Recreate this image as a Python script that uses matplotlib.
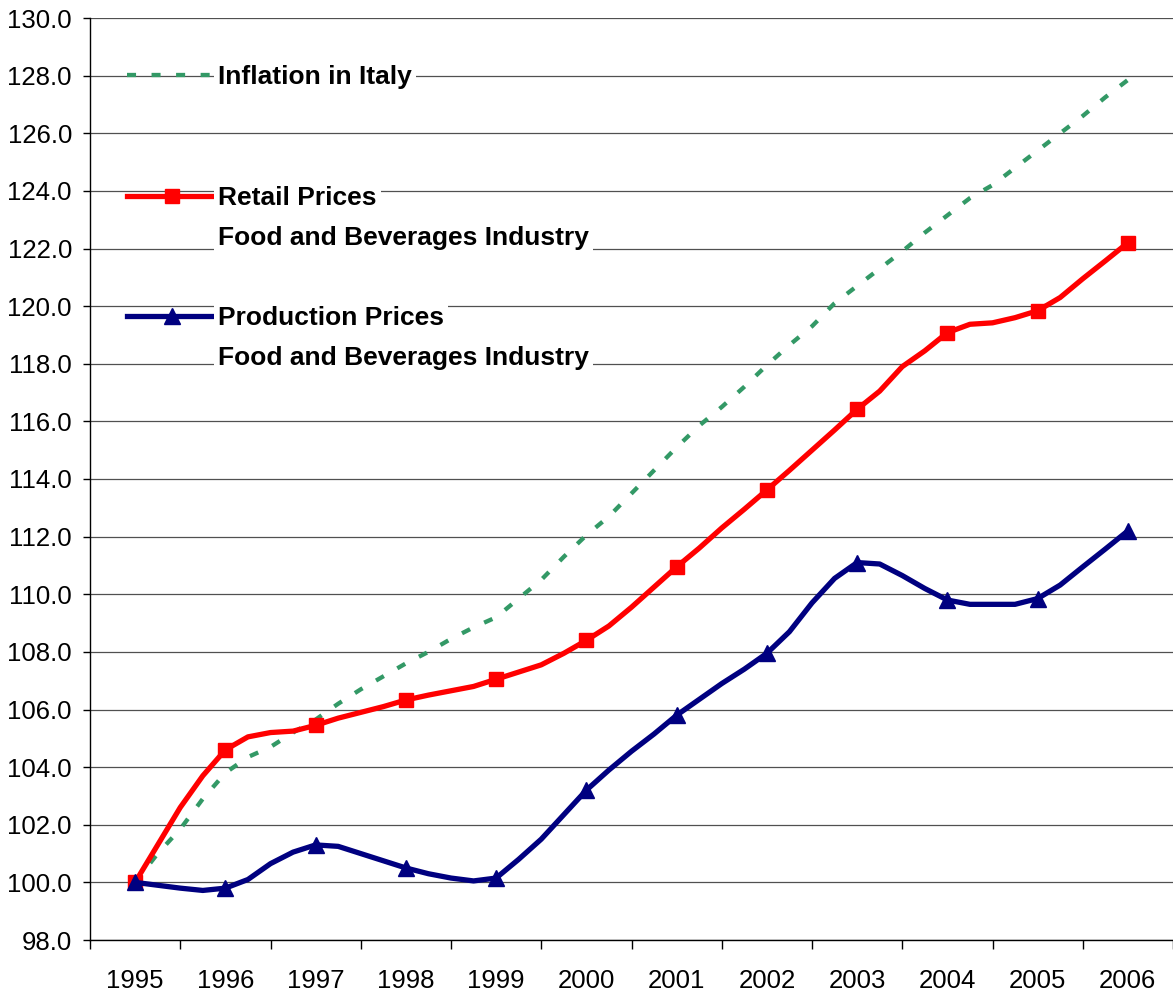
import matplotlib.pyplot as plt
import numpy as np
from matplotlib.lines import Line2D

# quarterly index values (1995 = 100), first quarter of each year carries a marker
years = ["1995", "1996", "1997", "1998", "1999", "2000",
         "2001", "2002", "2003", "2004", "2005", "2006"]

inflation = [100.0, 101.0, 101.85, 102.9,
             103.8, 104.35, 104.7, 105.2,
             105.65, 106.2, 106.7, 107.15,
             107.6, 108.0, 108.45, 108.85,
             109.2, 109.85, 110.5, 111.3,
             112.05, 112.7, 113.5, 114.3,
             115.1, 115.85, 116.5, 117.2,
             117.95, 118.65, 119.3, 120.1,
             120.7, 121.3, 121.9, 122.55,
             123.15, 123.75, 124.2, 124.8,
             125.4, 126.0, 126.6, 127.25,
             127.85]

retail = [100.0, 101.3, 102.6, 103.7,
          104.6, 105.05, 105.2, 105.25,
          105.45, 105.7, 105.9, 106.1,
          106.33, 106.5, 106.65, 106.8,
          107.05, 107.3, 107.55, 107.95,
          108.4, 108.9, 109.55, 110.25,
          110.95, 111.6, 112.3, 112.95,
          113.62, 114.3, 115.0, 115.7,
          116.42, 117.05, 117.9, 118.45,
          119.08, 119.37, 119.42, 119.6,
          119.84, 120.3, 120.95, 121.57,
          122.2]

production = [100.0, 99.9, 99.8, 99.72,
              99.8, 100.1, 100.65, 101.05,
              101.3, 101.25, 101.0, 100.75,
              100.5, 100.3, 100.15, 100.05,
              100.15, 100.8, 101.5, 102.35,
              103.2, 103.9, 104.55, 105.15,
              105.8, 106.35, 106.9, 107.4,
              107.95, 108.7, 109.7, 110.55,
              111.1, 111.05, 110.65, 110.2,
              109.8, 109.65, 109.65, 109.65,
              109.85, 110.32, 110.95, 111.57,
              112.2]

C_INFL = "#339966"
C_RETAIL = "#FF0000"
C_PROD = "#000080"
C_GRID = "#505050"

plt.rcParams["font.family"] = ["Liberation Sans", "DejaVu Sans"]

fig = plt.figure(figsize=(11.73, 10), dpi=100)
ax = fig.add_axes([90 / 1173, 60 / 1000, 1083 / 1173, 922 / 1000])

q = np.arange(len(retail)) / 4

ax.plot(q, inflation, color=C_INFL, lw=3.1, dashes=(2.1, 3.6),
        dash_capstyle="butt", zorder=3)
ax.plot(q, retail, color=C_RETAIL, lw=3.8, marker="s", markersize=9.5,
        markevery=4, zorder=4)
ax.plot(q, production, color=C_PROD, lw=3.8, marker="^", markersize=11,
        markevery=4, zorder=4)

# axes, ticks, grid
ax.set_xlim(-0.5, len(years) - 0.5)
ax.set_ylim(98, 130)
ax.set_yticks(np.arange(98, 130.1, 2))
ax.set_yticklabels([f"{v:.1f}" for v in np.arange(98, 130.1, 2)])
ax.set_xticks(np.arange(len(years)))
ax.set_xticklabels(years)
ax.set_xticks(np.arange(len(years) + 1) - 0.5, minor=True)
ax.tick_params(axis="x", which="major", length=0, pad=21, labelsize=18.5)
ax.tick_params(axis="x", which="minor", length=6.5, width=1, direction="out")
ax.tick_params(axis="y", which="major", length=5, width=1, pad=8, labelsize=18.5)
ax.yaxis.grid(True, color=C_GRID, lw=0.9)
ax.set_axisbelow(True)
for side in ("top", "right"):
    ax.spines[side].set_visible(False)
for side in ("left", "bottom"):
    ax.spines[side].set_linewidth(1)

# legend: eight rows, blank rows keep the spacing of the original
blank = Line2D([], [], color="none")
handles = [
    Line2D([], [], color=C_INFL, lw=3.1, dashes=(2.1, 3.6), dash_capstyle="butt"),
    blank, blank,
    Line2D([], [], color=C_RETAIL, lw=3.8, marker="s", markersize=9.5),
    blank, blank,
    Line2D([], [], color=C_PROD, lw=3.8, marker="^", markersize=11),
    blank,
]
labels = ["Inflation in Italy", "", "",
          "Retail Prices", "Food and Beverages Industry", "",
          "Production Prices", "Food and Beverages Industry"]
leg = ax.legend(handles, labels, loc="upper left", bbox_to_anchor=(0.034, 0.9485),
                frameon=False, prop={"size": 19, "weight": "bold"},
                handlelength=3.4, handletextpad=0.05, labelspacing=0.61,
                borderpad=0, borderaxespad=0, numpoints=1)
for t in leg.get_texts():
    if t.get_text():
        t.set_bbox(dict(facecolor="white", edgecolor="none", pad=3))

fig.savefig("out.png", dpi=100)
